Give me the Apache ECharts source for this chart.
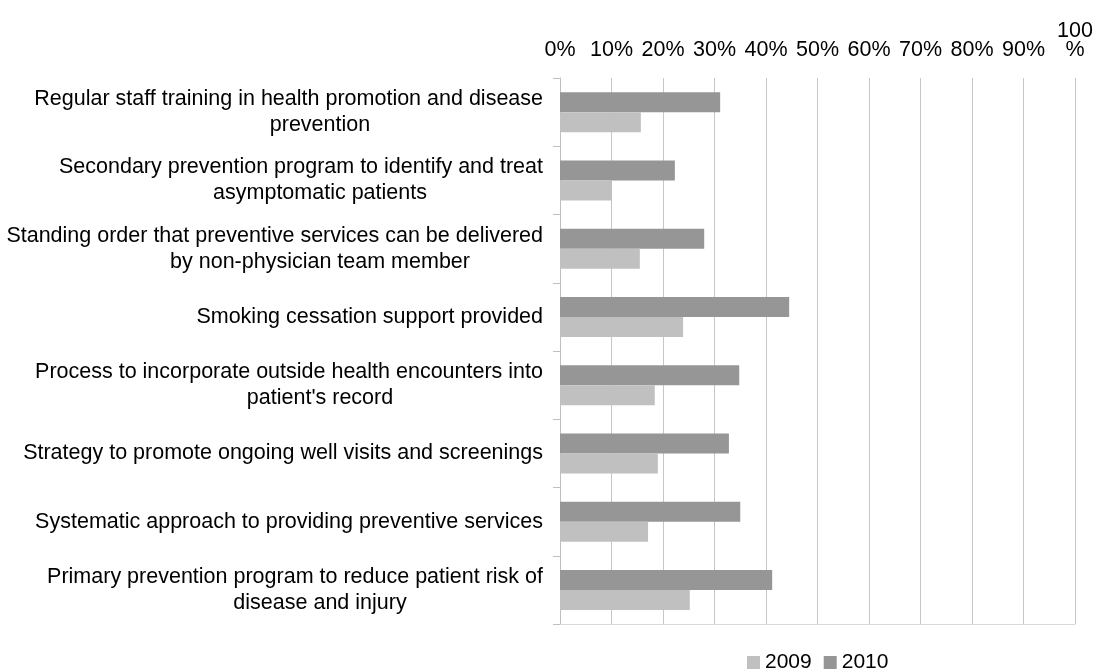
<!DOCTYPE html>
<html>
<head>
<meta charset="utf-8">
<script src="https://cdn.jsdelivr.net/npm/echarts@6/dist/echarts.min.js"></script>
<style>html,body{margin:0;padding:0;background:#fff}#c{width:1096px;height:672px}</style>
</head>
<body>
<div id="c"></div>
<script>
var categories = [
  "Regular staff training in health promotion and disease\nprevention",
  "Secondary prevention program to identify and treat\nasymptomatic patients",
  "Standing order that preventive services can be delivered\nby non-physician team member",
  "Smoking cessation support provided",
  "Process to incorporate outside health encounters into\npatient's record",
  "Strategy to promote ongoing well visits and screenings",
  "Systematic approach to providing preventive services",
  "Primary prevention program to reduce patient risk of\ndisease and injury"
];
var values2009 = [15.7, 10.1, 15.5, 23.9, 18.4, 19.0, 17.1, 25.2];
var values2010 = [31.1, 22.3, 28.0, 44.5, 34.8, 32.8, 35.0, 41.2];
var seriesNames = ["2009", "2010"];
var tickValues = [0, 10, 20, 30, 40, 50, 60, 70, 80, 90, 100];

var FONT = "'Liberation Sans', Arial, sans-serif";
var FS = 21.5;

function firstLineFmt(v) {
  var p = v.split('\n');
  if (p.length < 2) return '{a|' + p[0] + '}';
  return '{a|' + p[0] + '}\n{h|' + p[1] + '}';
}
function secondLineFmt(v) {
  var p = v.split('\n');
  if (p.length < 2) return '';
  return '{h|' + p[0] + '}\n{a|' + p[1] + '}';
}
var richStyles = {
  a: {color: '#000', fontSize: FS, fontFamily: FONT, lineHeight: 26},
  h: {color: 'rgba(0,0,0,0)', fontSize: FS, fontFamily: FONT, lineHeight: 26}
};

var chart = echarts.init(document.getElementById('c'), null, {renderer: 'canvas'});
chart.setOption({
  animation: false,
  backgroundColor: '#fff',
  grid: {left: 560, right: 21, top: 78, bottom: 48, containLabel: false},
  legend: {
    data: seriesNames,
    left: 742,
    top: 647,
    itemWidth: 13,
    itemHeight: 13,
    itemGap: 12,
    icon: 'rect',
    textStyle: {fontSize: 21, fontFamily: FONT, color: '#000'}
  },
  xAxis: [{
    type: 'value',
    position: 'top',
    min: tickValues[0], max: tickValues[tickValues.length - 1], interval: 10,
    axisLine: {show: false},
    axisTick: {show: false},
    splitLine: {show: true, lineStyle: {color: '#c6c6c6', width: 1}},
    axisLabel: {
      margin: 18,
      fontSize: FS, fontFamily: FONT, color: '#000', lineHeight: 19,
      formatter: function (v) { return v === 100 ? '100\n%' : v + '%'; }
    }
  }, {
    type: 'value',
    position: 'bottom',
    min: tickValues[0], max: tickValues[tickValues.length - 1], interval: 10,
    axisLine: {show: true, lineStyle: {color: '#d9d9d9', width: 1}},
    axisTick: {show: false},
    splitLine: {show: false},
    axisLabel: {show: false}
  }],
  yAxis: [{
    type: 'category',
    inverse: true,
    data: categories,
    position: 'left',
    axisLine: {show: true, lineStyle: {color: '#bfbfbf', width: 1}},
    axisTick: {show: true, length: 7, lineStyle: {color: '#bfbfbf'}},
    axisLabel: {interval: 0, margin: 17, align: 'right', formatter: firstLineFmt, rich: richStyles}
  }, {
    type: 'category',
    inverse: true,
    data: categories,
    position: 'left',
    axisLine: {show: false},
    axisTick: {show: false},
    splitLine: {show: false},
    axisLabel: {interval: 0, margin: 240, align: 'center', formatter: secondLineFmt, rich: richStyles}
  }],
  series: [{
    name: '2010', type: 'bar', data: values2010, xAxisIndex: 0, yAxisIndex: 0,
    barWidth: 20, barGap: '0%',
    itemStyle: {color: '#969696'}
  }, {
    name: '2009', type: 'bar', data: values2009, xAxisIndex: 0, yAxisIndex: 0,
    barWidth: 20, barGap: '0%',
    itemStyle: {color: '#c0c0c0'}
  }]
});
</script>
</body>
</html>
